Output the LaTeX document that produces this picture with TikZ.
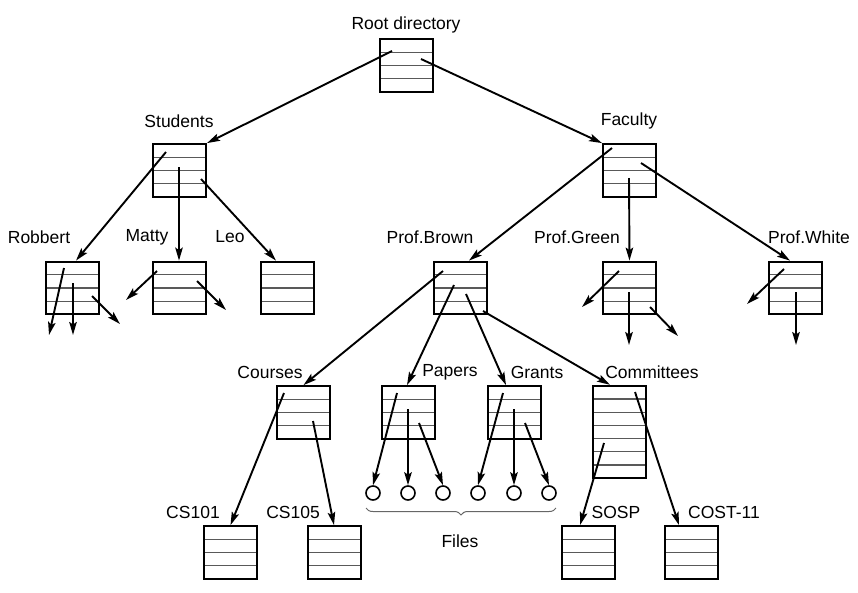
\documentclass[tikz,border=0pt]{standalone}
\usepackage{fontspec}
\setmainfont{Liberation Sans}
\usetikzlibrary{arrows.meta}
\usetikzlibrary{calc}
\usetikzlibrary{decorations.pathreplacing}

\begin{document}
\begin{tikzpicture}[x=1pt,y=-1pt,
    dir/.style={
% The shape:
rectangle,
% The size:
minimum width=53pt,
minimum height=#1*13.2pt,
% The border:
line width=2pt, draw,
% The entries:
path picture={
  \foreach \k [evaluate=\k as \f using (\k-1)/#1] in {2,...,#1}
    \draw[line width=1.3pt,black!65]
      ($(path picture bounding box.north west)!\f!(path picture bounding box.south west)$) --
      ($(path picture bounding box.north east)!\f!(path picture bounding box.south east)$);
}
},
    dir/.default=4,
    file/.style={
% The shape:
circle,
% The size:
minimum size=14pt, inner sep=0pt,
% The border:
line width=1.6pt, draw,
},
    lbl/.style={font=\fontsize{17.5}{20}\selectfont, inner sep=0pt},
    ptr/.style={-{Stealth[length=13pt,width=7.5pt,inset=2.5pt]}, line width=1.9pt},
]
  \useasboundingbox (0,0) rectangle (858,592);

  % directories
  \node[dir]    (root)       at (406,65.5)  {};
  \node[dir]    (students)   at (179.5,170.5) {};
  \node[dir]    (faculty)    at (629.5,170.5) {};
  \node[dir]    (robbert)    at (72,288)    {};
  \node[dir]    (matty)      at (179,288)   {};
  \node[dir]    (leo)        at (287,288)   {};
  \node[dir]    (brown)      at (460.5,288) {};
  \node[dir]    (green)      at (629.5,288) {};
  \node[dir]    (white)      at (795.5,288) {};
  \node[dir]    (courses)    at (303.5,412.5) {};
  \node[dir]    (papers)     at (408.5,412.5) {};
  \node[dir]    (grants)     at (514,412.5) {};
  \node[dir=7]  (committees) at (619.5,432) {};
  \node[dir]    (cs101)      at (230.5,552.5) {};
  \node[dir]    (cs105)      at (334,552.5) {};
  \node[dir]    (sosp)       at (588,552.5) {};
  \node[dir]    (cost)       at (691.5,552.5) {};

  % files
  \node[file] (f1) at (373,493) {};
  \node[file] (f2) at (408,493) {};
  \node[file] (f3) at (443,493) {};
  \node[file] (f4) at (478,493) {};
  \node[file] (f5) at (514,493) {};
  \node[file] (f6) at (549,493) {};

  % names
  \node[lbl] (root-l)       at (406,25)  {Root directory};
  \node[lbl] (students-l)   at (179,121) {Students};
  \node[lbl] (faculty-l)    at (629,121) {Faculty};
  \node[lbl] (robbert-l)    at (39,237)  {Robbert};
  \node[lbl] (matty-l)      at (147,237) {Matty};
  \node[lbl] (leo-l)        at (230,237) {Leo};
  \node[lbl] (brown-l)      at (430,237) {Prof.Brown};
  \node[lbl] (green-l)      at (577,237) {Prof.Green};
  \node[lbl] (white-l)      at (809,237) {Prof.White};
  \node[lbl] (courses-l)    at (270,372) {Courses};
  \node[lbl] (papers-l)     at (450,372) {Papers};
  \node[lbl] (grants-l)     at (537,372) {Grants};
  \node[lbl] (committees-l) at (652,372) {Committees};
  \node[lbl] (cs101-l)      at (193,512) {CS101};
  \node[lbl] (cs105-l)      at (293,512) {CS105};
  \node[lbl] (sosp-l)       at (616,512) {SOSP};
  \node[lbl] (cost-l)       at (724,512) {COST-11};
  \node[lbl] (files-l)      at (460,541) {Files};

  \draw[decorate,decoration={brace,amplitude=7pt},black!60,line width=1pt] (556,508) -- (366,508);

  % entries
  \coordinate (r1) at (392,51);   \coordinate (r2) at (421,59);
  \coordinate (s1) at (166,152);  \coordinate (s2) at (179,167);  \coordinate (s3) at (201,179);
  \coordinate (fa1) at (612,148); \coordinate (fa2) at (629,178); \coordinate (fa3) at (641,163);
  \coordinate (rb1) at (64,268);  \coordinate (rb2) at (73,283);  \coordinate (rb3) at (92,296);
  \coordinate (mt1) at (157,271); \coordinate (mt2) at (197,281);
  \coordinate (b1) at (443,271);  \coordinate (b2) at (454,285);  \coordinate (b3) at (466,294);  \coordinate (b4) at (483,311);
  \coordinate (gr1) at (619,271); \coordinate (gr2) at (629,292); \coordinate (gr3) at (650,307);
  \coordinate (wh1) at (784,269); \coordinate (wh2) at (796,292);
  \coordinate (c1) at (284,393);  \coordinate (c2) at (313,421);
  \coordinate (p1) at (397,393);  \coordinate (p2) at (408,409);  \coordinate (p3) at (419,423);
  \coordinate (g1) at (503,393);  \coordinate (g2) at (514,409);  \coordinate (g3) at (525,423);
  \coordinate (cm1) at (604,443); \coordinate (cm2) at (635,392);

  % loose ends
  \coordinate (rb1-e) at (49,335);  \coordinate (rb2-e) at (73,335);  \coordinate (rb3-e) at (120,324);
  \coordinate (mt1-e) at (126,300); \coordinate (mt2-e) at (226,310);
  \coordinate (gr1-e) at (582,307); \coordinate (gr2-e) at (629,345); \coordinate (gr3-e) at (678,336);
  \coordinate (wh1-e) at (747,304); \coordinate (wh2-e) at (796,345);

  \draw[ptr] (r1) -- (students.north east);
  \draw[ptr] (r2) -- (faculty.north west);

  \draw[ptr] (s1) -- ($(robbert.north)+(4,0)$);
  \draw[ptr] (s2) -- (matty.north);
  \draw[ptr] (s3) -- ($(leo.north)+(-11,0)$);

  \draw[ptr] (fa1) -- ($(brown.north)+(8.5,0)$);
  \draw[ptr] (fa2) -- (green.north);
  \draw[ptr] (fa3) -- ($(white.north)+(-5.5,0)$);

  \draw[ptr] (rb1) -- (rb1-e);
  \draw[ptr] (rb2) -- (rb2-e);
  \draw[ptr] (rb3) -- (rb3-e);
  \draw[ptr] (mt1) -- (mt1-e);
  \draw[ptr] (mt2) -- (mt2-e);

  \draw[ptr] (b1) -- (courses.north);
  \draw[ptr] (b2) -- ($(papers.north)+(-1.5,0)$);
  \draw[ptr] (b3) -- ($(grants.north)+(-8,0)$);
  \draw[ptr] (b4) -- ($(committees.north)+(-9.5,0)$);

  \draw[ptr] (gr1) -- (gr1-e);
  \draw[ptr] (gr2) -- (gr2-e);
  \draw[ptr] (gr3) -- (gr3-e);
  \draw[ptr] (wh1) -- (wh1-e);
  \draw[ptr] (wh2) -- (wh2-e);

  \draw[ptr] (c1) -- (cs101.north);
  \draw[ptr] (c2) -- (cs105.north);

  \draw[ptr] (p1) -- (f1.north);
  \draw[ptr] (p2) -- (f2.north);
  \draw[ptr] (p3) -- (f3.north);
  \draw[ptr] (g1) -- (f4.north);
  \draw[ptr] (g2) -- (f5.north);
  \draw[ptr] (g3) -- (f6.north);

  \draw[ptr] (cm1) -- ($(sosp.north)+(-8,0)$);
  \draw[ptr] (cm2) -- ($(cost.north)+(-12.5,0)$);
\end{tikzpicture}
\end{document}
